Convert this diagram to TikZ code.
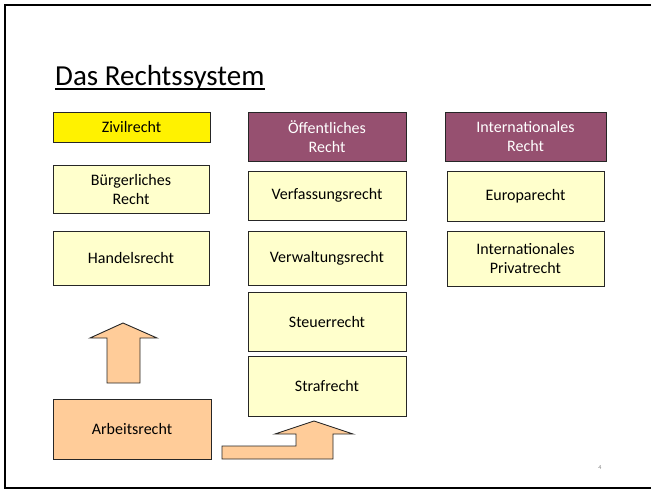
\documentclass[tikz,border=0pt]{standalone}
\usepackage{fontspec}
\setmainfont{Carlito}
\definecolor{paleyel}{HTML}{FFFFCC}
\definecolor{plum}{HTML}{965070}
\definecolor{peach}{HTML}{FFCC99}
\definecolor{brd}{HTML}{262626}
\begin{document}
\begin{tikzpicture}[x=1pt,y=-1pt,
  box/.style={draw=brd, line width=0.9pt, inner sep=0pt, outer sep=0pt, align=center,
    font=\fontsize{16}{19}\selectfont, text=black},
  subbox/.style={box, fill=paleyel},
  headbox/.style={box, fill=plum, text=white},
  blockarrow/.style={draw=brd, line width=0.9pt, fill=peach, line join=miter}]
\useasboundingbox (0,0) rectangle (652,490);
% slide frame
\draw[line width=2pt, black] (651,5) -- (5,5) -- (5,488) -- (651,488);
% title
\node[anchor=base west, inner sep=0pt, font=\fontsize{29}{35}\selectfont] (title) at (55,85) {Das Rechtssystem};
\draw[line width=1.1pt] ([yshift=-4pt]title.base west) -- ([yshift=-4pt]title.base east);
% column 1
\node[box, fill=yellow, minimum width=157pt, minimum height=30pt] (zivil) at (131.5,127) {Zivilrecht};
\node[subbox, minimum width=156pt, minimum height=48pt] (buerg) at (131,189) {Bürgerliches\\Recht};
\node[subbox, minimum width=156pt, minimum height=54pt] (handel) at (131,258) {Handelsrecht};
\node[box, fill=peach, minimum width=158pt, minimum height=60pt] (arbeit) at (132,429) {Arbeitsrecht};
% column 2
\node[headbox, minimum width=158pt, minimum height=49pt] (oeff) at (327,136.5) {Öffentliches\\Recht};
\node[subbox, minimum width=158pt, minimum height=49pt] (verf) at (327,195.5) {Verfassungsrecht};
\node[subbox, minimum width=158pt, minimum height=54pt] (verw) at (327,258) {Verwaltungsrecht};
\node[subbox, minimum width=158pt, minimum height=59pt] (steuer) at (327,321.5) {Steuerrecht};
\node[subbox, minimum width=158pt, minimum height=60pt] (straf) at (327,386) {Strafrecht};
% column 3
\node[headbox, minimum width=161pt, minimum height=49pt] (intl) at (525.5,136.5) {Internationales\\Recht};
\node[subbox, minimum width=157pt, minimum height=50pt] (euro) at (525.5,196) {Europarecht};
\node[subbox, minimum width=157pt, minimum height=55pt] (ipr) at (525.5,258.5) {Internationales\\Privatrecht};
% block arrows
\draw[blockarrow] (107,383) -- (107,338) -- (90,338) -- (123,323) -- (157,338) -- (140,338) -- (140,383) -- cycle;
\draw[blockarrow] (222,446) -- (296,446) -- (296,434) -- (275,434) -- (314,421) -- (353,434) -- (333,434) -- (333,459) -- (222,459) -- cycle;
% page number
\node[font=\fontsize{6}{7}\selectfont, text=black!50] (pnum) at (600,468) {4};
\end{tikzpicture}
\end{document}
